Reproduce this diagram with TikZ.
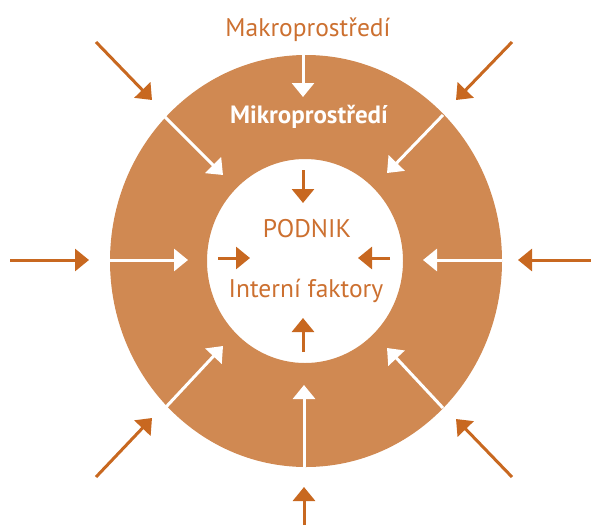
\documentclass[tikz,border=0pt]{standalone}
\usepackage{fontspec}
\setmainfont{PT Sans}
\usetikzlibrary{arrows.meta}
\definecolor{ringfill}{RGB}{208,137,82}
\definecolor{arrorange}{RGB}{200,104,32}
\definecolor{txtorange}{RGB}{204,112,48}

\begin{document}
\begin{tikzpicture}[x=1pt,y=-1pt,
    outarrow/.style={-{Triangle[width=22pt,length=14pt]},line width=3pt,arrorange},
    ringarrow/.style={-{Triangle[width=22pt,length=14pt]},line width=3pt,white},
    lbl/.style={anchor=base,font=\fontsize{25.5}{30}\selectfont,txtorange}]
  \useasboundingbox (0,0) rectangle (591,525);
  % ring
  \fill[ringfill,even odd rule] (306,261) ellipse [x radius=196pt,y radius=206pt]
    (305,261) ellipse [x radius=98pt,y radius=102pt];
  % outer arrows
  \coordinate (oNWa) at (96,42);   \coordinate (oNWb) at (152,100);
  \coordinate (oNEa) at (512,42);  \coordinate (oNEb) at (456,100);
  \coordinate (oWa) at (10,260);   \coordinate (oWb) at (89,260);
  \coordinate (oEa) at (591,260);  \coordinate (oEb) at (518,260);
  \coordinate (oSWa) at (96,477);  \coordinate (oSWb) at (152,418);
  \coordinate (oSEa) at (512,477); \coordinate (oSEb) at (456,419);
  \coordinate (oSa) at (304,525);  \coordinate (oSb) at (304,487);
  % ring arrows
  \coordinate (rNa) at (303,55);   \coordinate (rNb) at (303,97);
  \coordinate (rWa) at (110,260);  \coordinate (rWb) at (188,260);
  \coordinate (rEa) at (502,260);  \coordinate (rEb) at (423,260);
  \coordinate (rSa) at (304,467);  \coordinate (rSb) at (304,385);
  \coordinate (rNWa) at (165,117); \coordinate (rNWb) at (223,175);
  \coordinate (rNEa) at (443,115); \coordinate (rNEb) at (387,173);
  \coordinate (rSWa) at (166,407); \coordinate (rSWb) at (223,346);
  \coordinate (rSEa) at (443,408); \coordinate (rSEb) at (387,348);
  % inner arrows
  \coordinate (iNa) at (303,170);  \coordinate (iNb) at (303,203);
  \coordinate (iWa) at (218,258);  \coordinate (iWb) at (250,258);
  \coordinate (iEa) at (390,258);  \coordinate (iEb) at (358,258);
  \coordinate (iSa) at (303,352);  \coordinate (iSb) at (303,318);
  \foreach \p in {NW,NE,W,E,SW,SE,S}
    \draw[outarrow] (o\p a) -- (o\p b);
  \foreach \p in {N,W,E,S,NW,NE,SW,SE}
    \draw[ringarrow] (r\p a) -- (r\p b);
  \foreach \p in {N,W,E,S}
    \draw[outarrow] (i\p a) -- (i\p b);
  % labels
  \node[lbl] (makro) at (308,36) {Makroprostředí};
  \node[lbl,white,font=\fontsize{25}{30}\selectfont\bfseries] (mikro) at (309,123) {Mikroprostředí};
  \node[lbl] (podnik) at (307,237) {PODNIK};
  \node[lbl] (intern) at (306,297) {Interní faktory};
\end{tikzpicture}
\end{document}
